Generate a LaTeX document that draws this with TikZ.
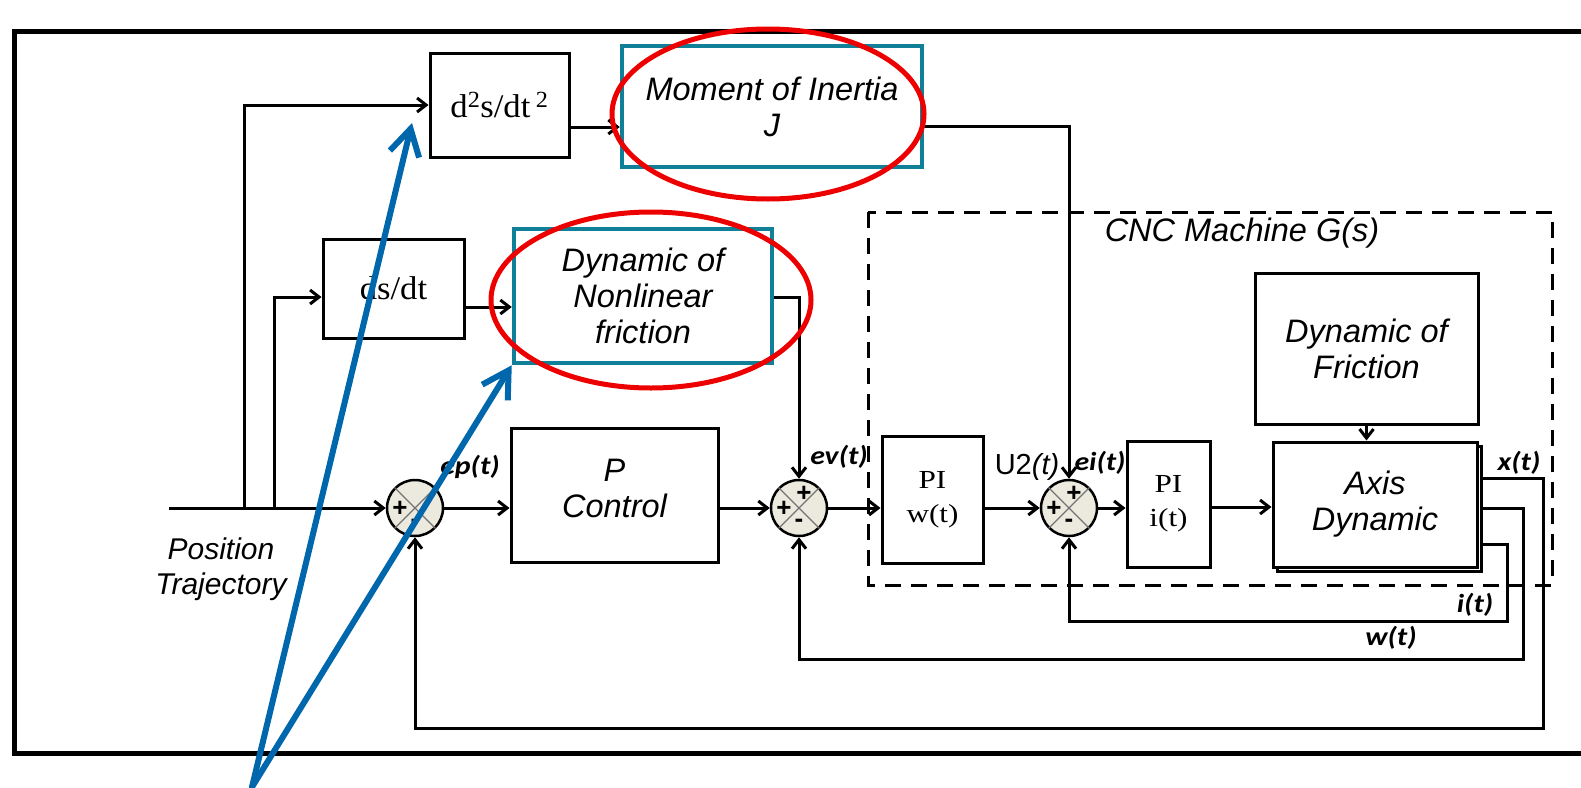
\documentclass[tikz,border=0pt]{standalone}
\usepackage{fontspec}
\setmainfont{Liberation Sans}
\newfontfamily\serifw[FakeStretch=1.2]{Liberation Serif}
\newfontfamily\serifd[FakeStretch=1.05]{Liberation Serif}
\newfontfamily\labf[FakeStretch=1.15]{Carlito}
\usetikzlibrary{arrows.meta}
\definecolor{teal1}{RGB}{16,128,152}
\definecolor{red1}{RGB}{236,0,0}
\definecolor{blue1}{RGB}{0,103,172}
\definecolor{sumfill}{RGB}{236,233,222}
\begin{document}
\begin{tikzpicture}[x=1pt,y=-1pt,
  wire/.style={line width=3pt},
  conn/.style={line width=3pt,-{Straight Barb[length=9pt,width=14pt]}},
  blk/.style={draw,line width=3pt,fill=white,inner sep=0pt,align=center},
  tealbox/.style={draw=teal1,line width=4.5pt,fill=white,inner sep=0pt,align=center},
  gtxt/.style={font=\fontsize{32.5}{36}\selectfont\itshape,align=center},
  stxt/.style={font=\serifw\fontsize{26}{34}\selectfont},
  dtxt/.style={font=\serifd\fontsize{33}{34}\selectfont},
  lbl/.style={font=\labf\bfseries\itshape\fontsize{26}{28}\selectfont,inner sep=0pt},
  sumj/.style={circle,draw,line width=2.5pt,fill=sumfill,minimum size=56pt,inner sep=0pt},
  sgn/.style={font=\fontsize{26}{26}\selectfont\bfseries,inner sep=0pt},
  diag/.style={draw=black!55,line width=1.3pt},
  bluearrow/.style={draw=blue1,line width=6pt,line cap=round,-{Straight Barb[length=26pt,width=30pt]}},
  redell/.style={draw=red1,line width=5pt}]
\useasboundingbox (0,0) rectangle (1581,787);

% outer frame
\draw[line width=5pt] (1585,31) -- (14,31) -- (14,753) -- (1585,753);

% CNC dashed region
\draw[line width=3pt,dash pattern=on 16pt off 10pt] (868,212) rectangle (1552,585);
\node[gtxt,inner sep=0pt] (cnc) at (1242,233) {CNC Machine G(s)};

% blocks
\node[blk,dtxt,minimum width=139pt,minimum height=104pt] (d2) at (499.5,105) {d\textsuperscript{2}s/dt\,\textsuperscript{2}};
\node[blk,dtxt,minimum width=141pt,minimum height=99pt] (ds) at (393.5,288.5) {ds/dt};
\node[tealbox,gtxt,minimum width=300pt,minimum height=121pt] (J) at (772,106.5) {Moment of Inertia\\J};
\node[tealbox,gtxt,minimum width=258pt,minimum height=134pt] (NF) at (643,296) {Dynamic of\\Nonlinear\\friction};
\node[blk,minimum width=207pt,minimum height=134pt] (P) at (614.5,495) {};
\node[gtxt] (Ptxt) at (614.5,488) {P\\Control};
\node[blk,stxt,minimum width=101pt,minimum height=127pt] (PIw) at (932.5,499.5) {PI\\w(t)};
\node[blk,stxt,minimum width=83pt,minimum height=126pt] (PIi) at (1168.5,504) {PI\\i(t)};
\node[blk,gtxt,minimum width=223pt,minimum height=151pt] (DF) at (1366.5,348.5) {Dynamic of\\Friction};
\node[blk,minimum width=204pt,minimum height=125pt] (AXs) at (1379,508.5) {};
\node[blk,gtxt,minimum width=204pt,minimum height=125pt] (AX) at (1375,504.5) {Axis\\Dynamic};

% summing junctions
\node[sumj] (ep) at (415,508) {};
\node[sumj] (ev) at (799,508) {};
\node[sumj] (u2) at (1069,508) {};
\foreach \s in {ep,ev,u2}{
  \draw[diag] (\s.north west) -- (\s.south east) (\s.north east) -- (\s.south west);
}
\node[sgn] (epl) at (400,509) {+};
\node[sgn] (epb) at (415,523) {-};
\node[sgn] (evl) at (784,509) {+};
\node[sgn] (evt) at (804,494) {+};
\node[sgn] (evb) at (799,523) {-};
\node[sgn] (u2l) at (1054,509) {+};
\node[sgn] (u2t) at (1074,494) {+};
\node[sgn] (u2b) at (1069,523) {-};

% input and branches
\node[gtxt,font=\fontsize{30}{35}\selectfont\itshape] (pos) at (221,569) {Position\\Trajectory};
\coordinate (in) at (169,508);
\coordinate (b1) at (244,508);
\coordinate (b2) at (274,508);
\draw[conn] (in) -- (ep.west);
\draw[conn] (b1) |- (d2.west);
\draw[conn] (b2) |- ([yshift=-8.5pt]ds.west);
\draw[conn] (d2.east |- 0,127) -- (J.west |- 0,127);
\draw[conn] (ds.east |- 0,307) -- (NF.west |- 0,307);
\draw[conn] (J.east |- 0,126) -| (u2.north);
\draw[conn] (NF.east |- 0,297) -| (ev.north);

% forward path
\draw[conn] (ep.east) -- (P.west |- ep.east);
\draw[conn] (P.east |- ev.west) -- (ev.west);
\draw[conn] (ev.east) -- (PIw.west |- ev.east);
\draw[conn] (PIw.east |- u2.west) -- (u2.west);
\draw[conn] (u2.east) -- (PIi.west |- u2.east);
\draw[conn] (PIi.east |- 0,507) -- (AX.west |- 0,507);
\draw[conn] (DF.south) -- (DF.south |- AX.north);

% feedback paths
\coordinate (xc) at (1543,728);
\coordinate (wc) at (1523,659);
\coordinate (ic) at (1507,621);
\draw[conn] (AXs.east |- 0,478) -| (xc) -| (ep.south);
\draw[conn] (AXs.east |- 0,508) -| (wc) -| (ev.south);
\draw[conn] (AXs.east |- 0,544) -| (ic) -| (u2.south);

% signal labels
\node[lbl] (lep) at (470,467) {ep(t)};
\node[lbl] (lev) at (839,457) {ev(t)};
\node[lbl] (lei) at (1100,463) {ei(t)};
\node[inner sep=0pt,font=\fontsize{29}{30}\selectfont] (lu2) at (1027,467) {U2\textit{(t)}};
\node[lbl] (lx) at (1519,463) {x(t)};
\node[lbl] (li) at (1475,605) {i(t)};
\node[lbl] (lw) at (1391,638) {w(t)};

% highlight ellipses
\draw[redell] (768,114) ellipse [x radius=156pt, y radius=85pt];
\draw[redell] (651,300) ellipse [x radius=160pt, y radius=88pt];

% blue pointer arrows
\coordinate (bo) at (252,787);
\coordinate (t1) at (412,123);
\draw[bluearrow] (bo) -- (t1);
\draw[bluearrow] (bo) -- (NF.south west);
\end{tikzpicture}
\end{document}
